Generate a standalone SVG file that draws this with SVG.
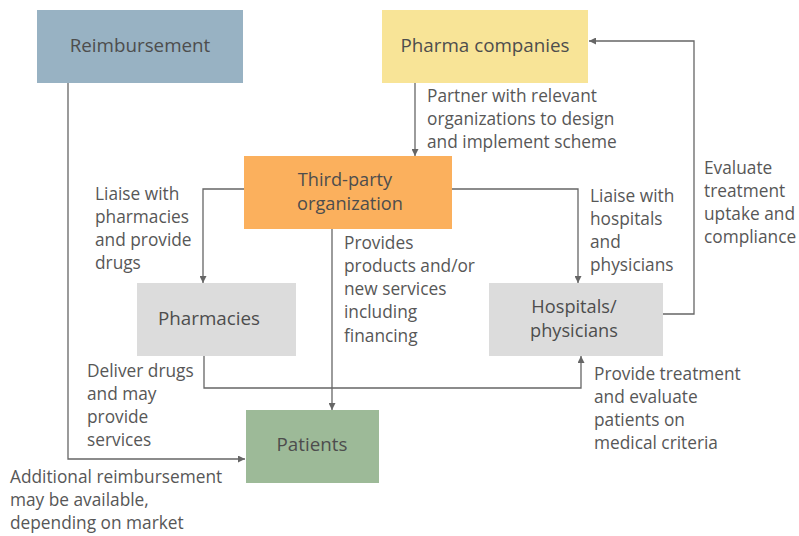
<svg xmlns="http://www.w3.org/2000/svg" width="799" height="536" viewBox="0 0 799 536">
<style>
text{font-family:"Open Sans","Noto Sans","Liberation Sans",sans-serif;fill:#575757;}
.n{font-size:18.8px;text-anchor:middle;fill:#4d4d4d;}
.n2{font-size:18.2px;}
.l{font-size:17.3px;}
.c{fill:none;stroke:#666;stroke-width:1.3;}
</style>
<defs>
<marker id="a" viewBox="0 0 10 10" refX="10" refY="5" markerWidth="7" markerHeight="7" markerUnits="userSpaceOnUse" orient="auto">
<path d="M0,0 L10,5 L0,10 Z" fill="#666"/>
</marker>
</defs>
<rect width="799" height="536" fill="#fff"/>
<g id="connectors">
<path class="c" d="M68,83 V459 H245" marker-end="url(#a)"/>
<path class="c" d="M415,83 V156" marker-end="url(#a)"/>
<path class="c" d="M244,189 H203 V283" marker-end="url(#a)"/>
<path class="c" d="M452,189 H578 V283" marker-end="url(#a)"/>
<path class="c" d="M332,229 V410" marker-end="url(#a)"/>
<path class="c" d="M204,356 V388 H581 V356" marker-end="url(#a)"/>
<path class="c" d="M663,314 H694 V41 H589" marker-end="url(#a)"/>
</g>
<g id="reimbursement">
<rect x="37" y="10" width="206" height="73" fill="#98b2c3"/>
<text class="n" x="140" y="52">Reimbursement</text>
</g>
<g id="pharma">
<rect x="382" y="10" width="206" height="73" fill="#f8e497"/>
<text class="n" x="485" y="52">Pharma companies</text>
</g>
<g id="thirdparty">
<rect x="244" y="156" width="208" height="73" fill="#fbb05d"/>
<text class="n n2"><tspan x="345" y="185.5">Third-party</tspan><tspan x="350" y="209.5">organization</tspan></text>
</g>
<g id="pharmacies">
<rect x="137" y="283" width="159" height="73" fill="#dcdcdc"/>
<text class="n" x="209" y="325">Pharmacies</text>
</g>
<g id="hospitals">
<rect x="489" y="283" width="174" height="73" fill="#dcdcdc"/>
<text class="n n2"><tspan x="574" y="312.5">Hospitals/</tspan><tspan x="574" y="336.5">physicians</tspan></text>
</g>
<g id="patients">
<rect x="246" y="410" width="133" height="73" fill="#9dba98"/>
<text class="n" x="312" y="451">Patients</text>
</g>
<g id="labels">
<text class="l"><tspan x="427" y="102">Partner with relevant</tspan><tspan x="427" y="125">organizations to design</tspan><tspan x="427" y="148">and implement scheme</tspan></text>
<text class="l"><tspan x="704" y="174">Evaluate</tspan><tspan x="704" y="197">treatment</tspan><tspan x="704" y="220">uptake and</tspan><tspan x="704" y="243">compliance</tspan></text>
<text class="l"><tspan x="95" y="200">Liaise with</tspan><tspan x="95" y="223">pharmacies</tspan><tspan x="95" y="246">and provide</tspan><tspan x="95" y="269">drugs</tspan></text>
<text class="l"><tspan x="590" y="202">Liaise with</tspan><tspan x="590" y="225">hospitals</tspan><tspan x="590" y="248">and</tspan><tspan x="590" y="271">physicians</tspan></text>
<text class="l"><tspan x="344" y="249">Provides</tspan><tspan x="344" y="272">products and/or</tspan><tspan x="344" y="295">new services</tspan><tspan x="344" y="318">including</tspan><tspan x="344" y="342">financing</tspan></text>
<text class="l"><tspan x="87" y="377">Deliver drugs</tspan><tspan x="87" y="400">and may</tspan><tspan x="87" y="423">provide</tspan><tspan x="87" y="446">services</tspan></text>
<text class="l"><tspan x="10" y="483">Additional reimbursement</tspan><tspan x="10" y="506">may be available,</tspan><tspan x="10" y="529">depending on market</tspan></text>
<text class="l"><tspan x="594" y="380">Provide treatment</tspan><tspan x="594" y="403">and evaluate</tspan><tspan x="594" y="426">patients on</tspan><tspan x="594" y="449">medical criteria</tspan></text>
</g>
</svg>
